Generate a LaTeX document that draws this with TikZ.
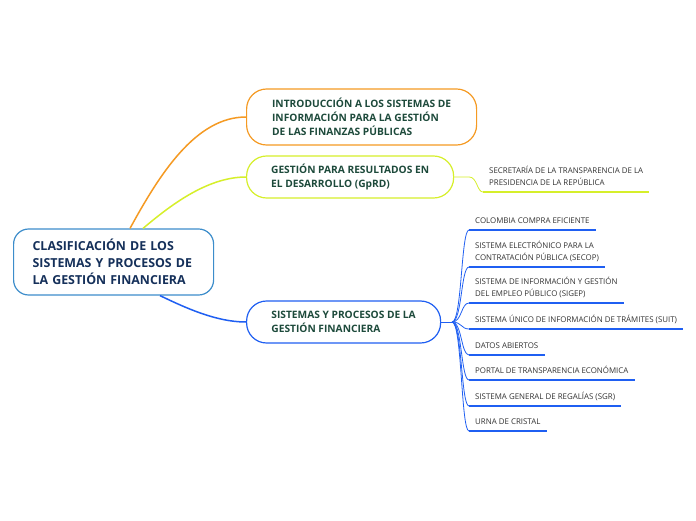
\documentclass[tikz,border=0pt]{standalone}
\usepackage{fontspec}
\setmainfont{Open Sans}
\usepackage{tikz}
\usetikzlibrary{positioning}

\definecolor{orangeBr}{HTML}{F59A23}
\definecolor{limeBr}{HTML}{D6EF2A}
\definecolor{blueBr}{HTML}{1F5FF2}
\definecolor{rootBd}{HTML}{3C8DCB}
\definecolor{rootTxt}{HTML}{15305A}
\definecolor{topicTxt}{HTML}{1D4A3B}
\definecolor{leafTxt}{HTML}{333333}

\begin{document}
\begin{tikzpicture}[x=1pt,y=-1pt,
        root/.style={draw=rootBd,line width=1.2pt,fill=white,rounded corners=15pt,anchor=west,
            inner xsep=19pt,text width=162pt,minimum height=66pt,align=left,
            font=\fontsize{12.4}{17}\selectfont\bfseries,text=rootTxt},
        topic/.style={fill=white,line width=1.2pt,rounded corners=20pt,anchor=west,
            inner xsep=24pt,align=left,font=\fontsize{10.2}{14}\selectfont\bfseries,text=topicTxt},
        leaf/.style={anchor=south west,inner xsep=6pt,inner ysep=4.5pt,text depth=2pt,align=left,
            font=\fontsize{7.9}{12}\selectfont,text=leafTxt},
        uline/.style={line width=2.2pt},
        branch/.style={line width=1.5pt},
        twig/.style={line width=0.8pt}
    ]
    \path[use as bounding box,fill=white] (0,0) rectangle (696,520);

    %--- main nodes ---
    \node[root] (root) at (13,262) {CLASIFICACIÓN DE LOS\\ SISTEMAS Y PROCESOS DE\\ LA GESTIÓN FINANCIERA};
    \node[topic,draw=orangeBr,minimum width=230pt,minimum height=56pt] (t1) at (246,117)
        {INTRODUCCIÓN A LOS SISTEMAS DE\\ INFORMACIÓN PARA LA GESTIÓN\\ DE LAS FINANZAS PÚBLICAS};
    \node[topic,draw=limeBr,minimum width=207pt,minimum height=42pt] (t2) at (246,177)
        {GESTIÓN PARA RESULTADOS EN\\ EL DESARROLLO (GpRD)};
    \node[topic,draw=blueBr,minimum width=194pt,minimum height=42pt] (t3) at (246,322)
        {SISTEMAS Y PROCESOS DE LA\\ GESTIÓN FINANCIERA};

    %--- leaves ---
    \node[leaf] (g1) at (483,192) {SECRETARÍA DE LA TRANSPARENCIA DE LA\\ PRESIDENCIA DE LA REPÚBLICA};
    \node[leaf] (s1) at (469,230) {COLOMBIA COMPRA EFICIENTE};
    \node[leaf] (s2) at (469,267) {SISTEMA ELECTRÓNICO PARA LA\\ CONTRATACIÓN PÚBLICA (SECOP)};
    \node[leaf] (s3) at (469,303) {SISTEMA DE INFORMACIÓN Y GESTIÓN\\ DEL EMPLEO PÚBLICO (SIGEP)};
    \node[leaf] (s4) at (469,329) {SISTEMA ÚNICO DE INFORMACIÓN DE TRÁMITES (SUIT)};
    \node[leaf] (s5) at (469,355) {DATOS ABIERTOS};
    \node[leaf] (s6) at (469,380) {PORTAL DE TRANSPARENCIA ECONÓMICA};
    \node[leaf] (s7) at (469,406) {SISTEMA GENERAL DE REGALÍAS (SGR)};
    \node[leaf] (s8) at (469,431) {URNA DE CRISTAL};
    \coordinate (j) at (452,322);

    %--- branches ---
    \draw[orangeBr,branch] ([xshift=117pt]root.north west) .. controls +(30,-55) and +(-50,0) .. (t1.west);
    \draw[limeBr,branch] ([xshift=130pt]root.north west) .. controls +(25,-21) and +(-40,0) .. (t2.west);
    \draw[blueBr,branch] ([xshift=147pt]root.south west) .. controls +(25,12) and +(-30,0) .. (t3.west);
    \draw[limeBr,twig] (t2.east) -- ++(15,0) .. controls +(8,0) and +(-6,0) .. (g1.south west);
    \draw[limeBr,uline] (g1.south west) -- (g1.south east);
    \draw[blueBr,twig] (t3.east) -- (j);
    \foreach \i in {1,...,8}{
        \draw[blueBr,twig] (j) .. controls +(10,0) and +(-8,0) .. (s\i.south west);
        \draw[blueBr,uline] (s\i.south west) -- (s\i.south east);
    }
\end{tikzpicture}
\end{document}
